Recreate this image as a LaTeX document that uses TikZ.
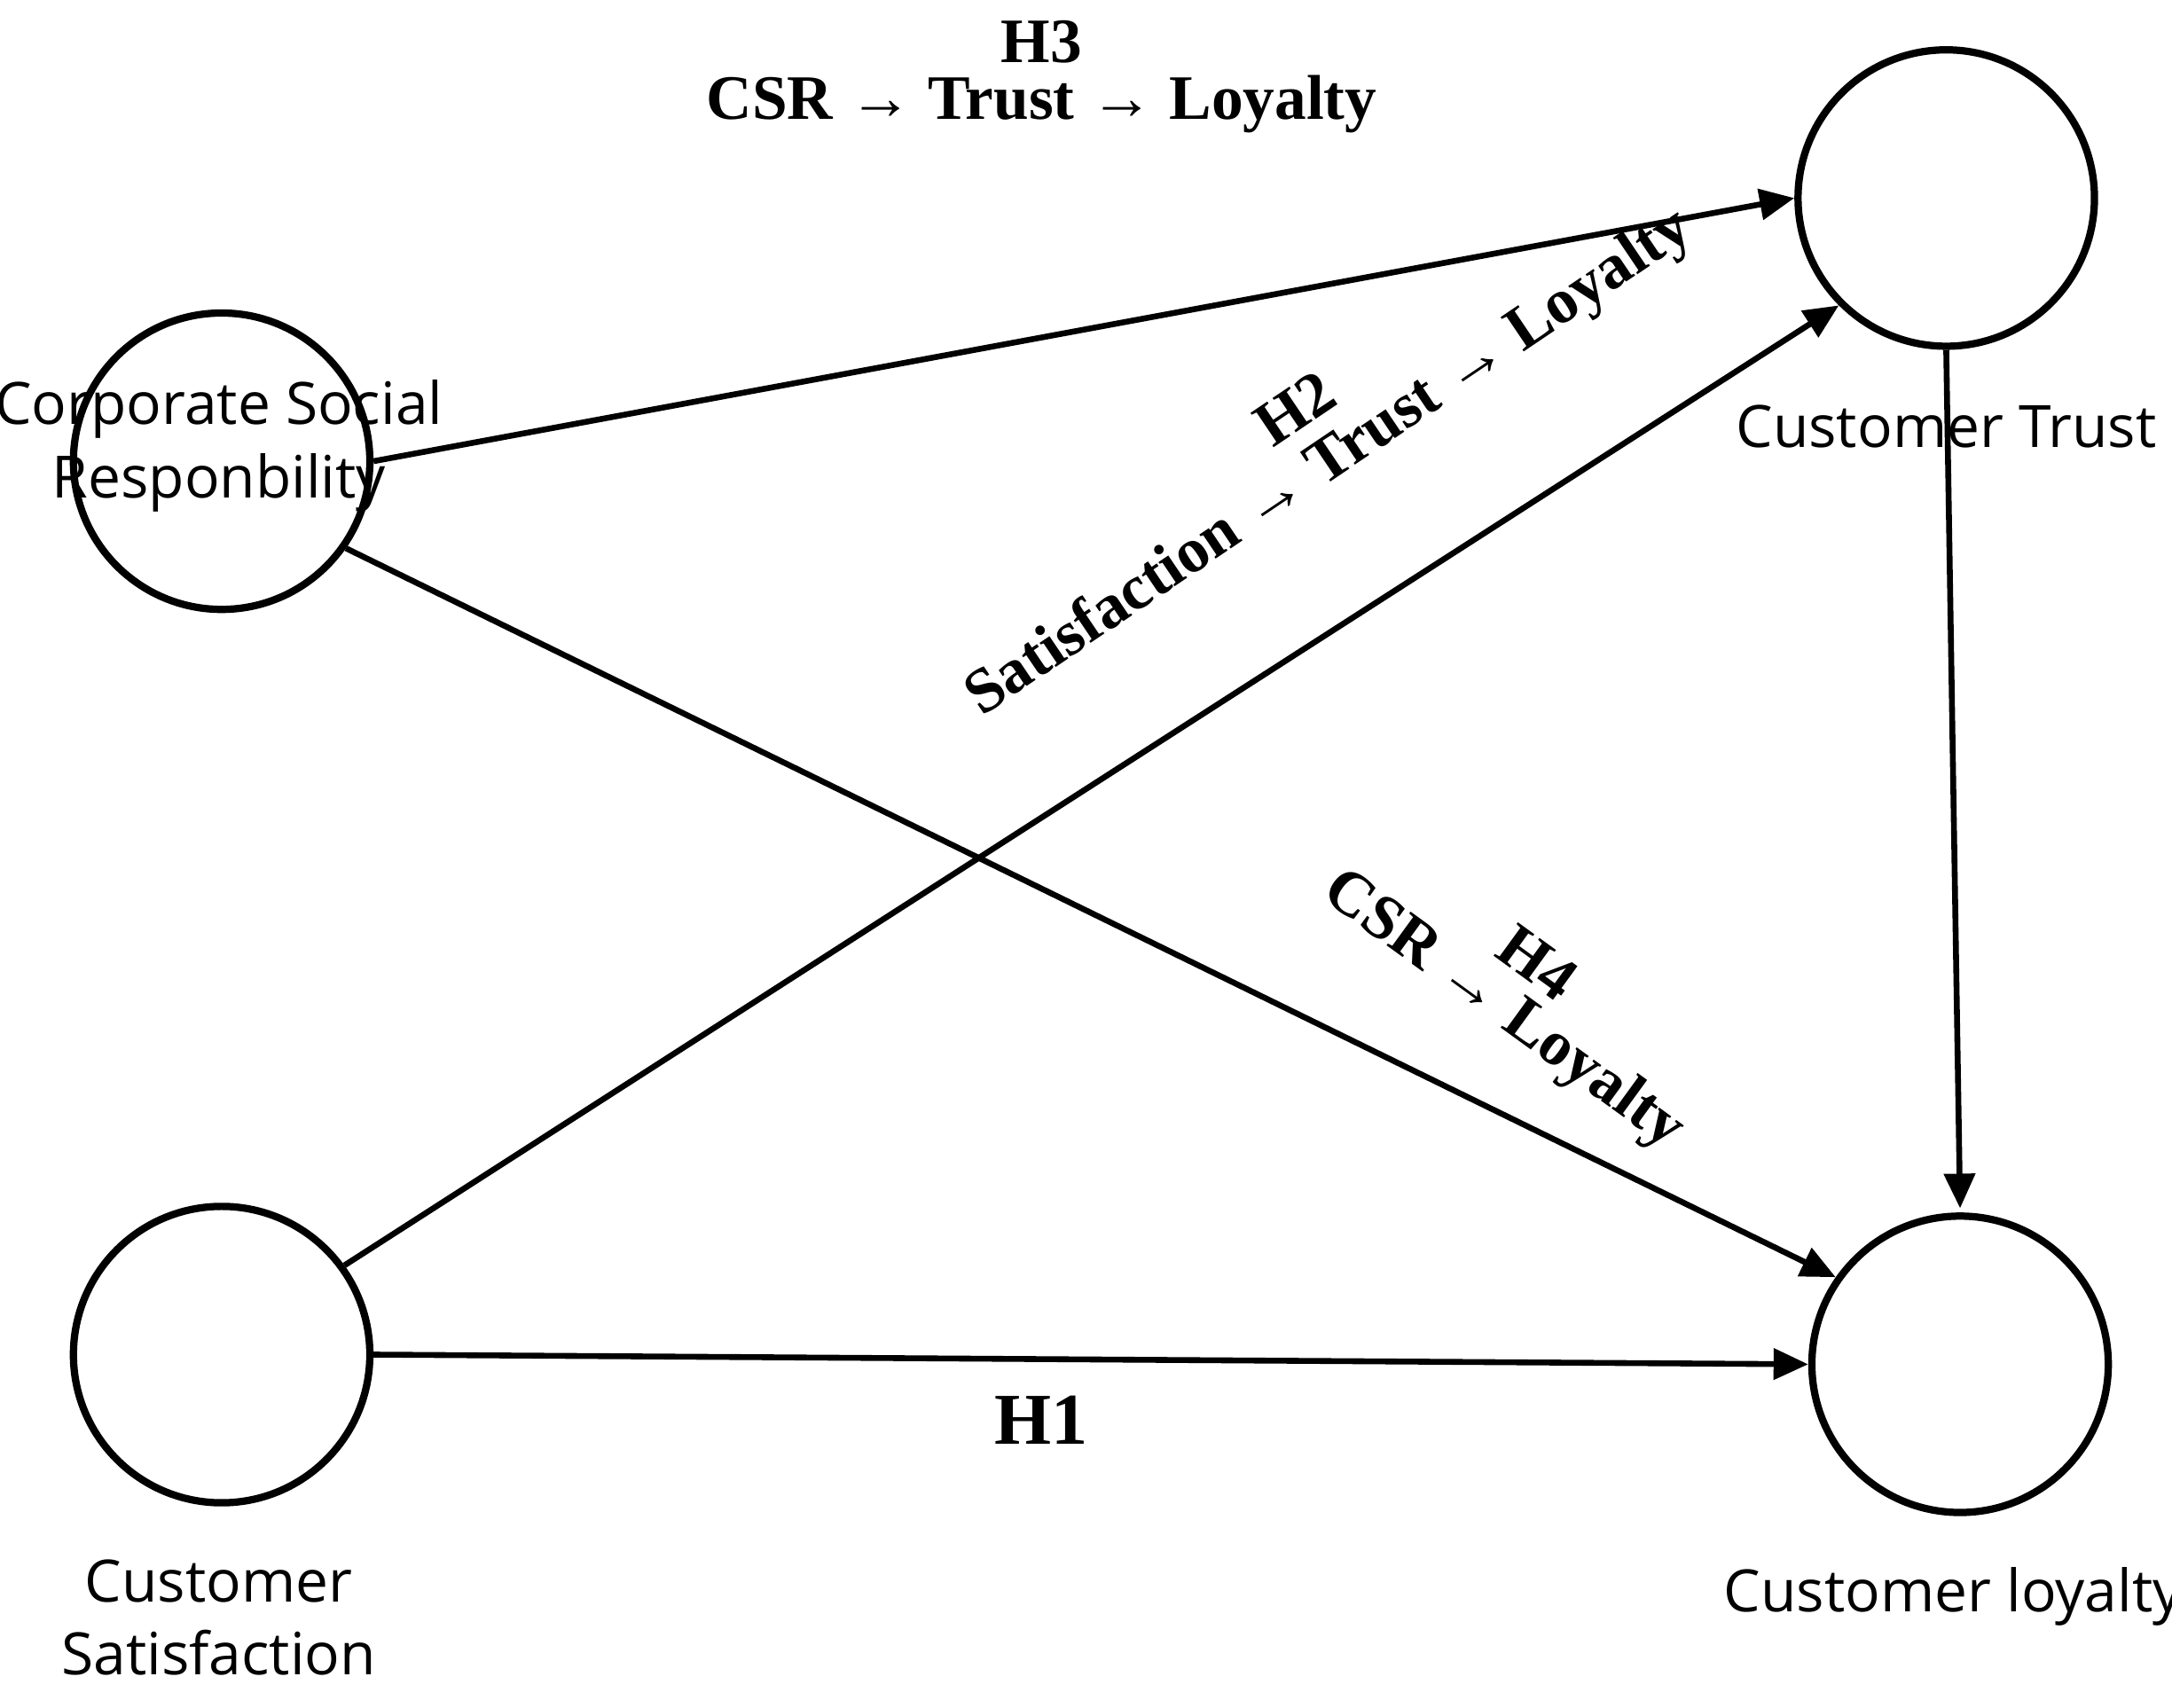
\documentclass[tikz,border=0pt]{standalone}
\usepackage{fontspec}
\setmainfont{Liberation Serif}
\newfontfamily\labfont{Open Sans}
\usetikzlibrary{arrows.meta}
\begin{document}
\begin{tikzpicture}
	\useasboundingbox (0,0) rectangle (15.68,12.33);
	\tikzset{
		construct/.style={circle,draw,line width=1.5pt,minimum size=2.14cm,inner sep=0pt},
		varlab/.style={font=\labfont\fontsize{12}{15}\selectfont,align=center},
		hyp/.style={font=\bfseries\fontsize{13}{15}\selectfont,align=center},
		hpath/.style={line width=1.2pt,-{Triangle[length=0.25cm,width=0.22cm]}}
	}
	\node[construct] (csr) at (1.60,9.00) {};
	\node[construct] (trust) at (14.05,10.90) {};
	\node[construct] (sat) at (1.60,2.55) {};
	\node[construct] (loy) at (14.15,2.48) {};
	\node[varlab] (csrlab) at (1.58,9.11) {Corporate Social\\Responbility};
	\node[varlab] (trustlab) at (14.05,9.25) {Customer Trust};
	\node[varlab] (satlab) at (1.58,0.65) {Customer\\Satisfaction};
	\node[varlab] (loylab) at (14.10,0.80) {Customer loyalty};
	
	\draw [hpath] (csr.east) -- (trust.west);
	\draw [hpath] (sat.east) -- (loy.west);
	\draw [hpath] (csr.-35) -- (loy.145);
	\draw [hpath] (sat.36) -- (trust.-135);
	\draw [hpath] (trust.south) -- ([yshift=0.03cm]loy.north);
	
	\node[hyp] (h3) at (7.52,12.03) {H3};
	\node[hyp] (h3b) at (7.52,11.58) {CSR → Trust → Loyalty};
	\node[hyp,rotate=34] (h2) at (9.35,9.38) {H2};
	\node[hyp,rotate=34] (h2b) at (9.60,8.98) {Satisfaction → Trust → Loyalty};
	\node[hyp,rotate=-36] (h4) at (11.10,5.38) {H4};
	\node[hyp,rotate=-36] (h4b) at (10.85,5.03) {CSR → Loyalty};
	\node[hyp,font=\bfseries\fontsize{15}{17}\selectfont] (h1) at (7.52,2.08) {H1};
\end{tikzpicture}
\end{document}
